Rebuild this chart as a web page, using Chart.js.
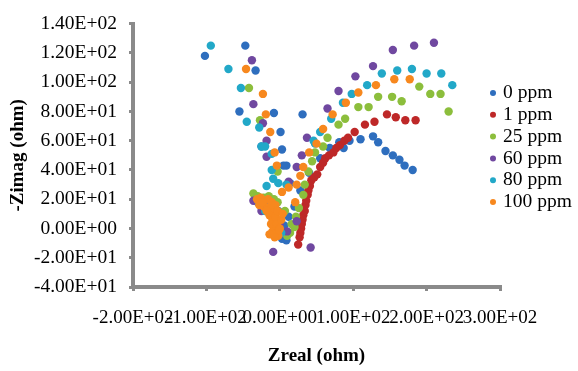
<!DOCTYPE html>
<html>
<head>
<meta charset="utf-8">
<script src="https://cdn.jsdelivr.net/npm/chart.js@4.4.0/dist/chart.umd.min.js"></script>
<style>
  html, body { margin: 0; padding: 0; background: #fff; }
  #wrap { width: 578px; height: 371px; }
</style>
</head>
<body>
<div id="wrap"><canvas id="nyquist" width="578" height="371"></canvas></div>
<script>
// Nyquist data, [Zreal, -Zimag] in ohm
const seriesLabels = ["0 ppm", "1 ppm", "25 ppm", "60 ppm", "80 ppm", "100 ppm"];
const seriesColors = ["#2E6EBE", "#BE2828", "#8CBE3C", "#7048A0", "#22A8C8", "#F7881E"];

const ppm0 = [
  [-47, 125], [-102, 118], [-33, 108], [-55, 80], [-8, 79], [31, 78], [1, 66], [3, 54],
  [-25, 56], [9, 43], [5, 43], [14, 31], [-30, 18], [-20, 15], [-12, 10], [-5, 5],
  [0, -2], [3, -7], [9, -8], [-2, 12], [6, 2], [12, 8], [20, 15], [28, 26], [40, 38],
  [55, 48], [68, 55], [81, 59], [87, 55], [95, 60], [110, 61], [127, 63], [134, 59],
  [144, 53], [154, 50], [163, 47], [170, 43], [181, 40]
];
const ppm1 = [
  [25, -11], [27, -6], [28, -3], [29, 0], [30, 3], [31, 6], [32, 9], [34, 12], [35, 16],
  [36, 19], [38, 23], [39, 26], [41, 29], [43, 33], [47, 35], [51, 37], [55, 42], [59, 45],
  [62, 48], [67, 50], [73, 52], [77, 55], [82, 57], [88, 60], [93, 62], [102, 66],
  [116, 71], [129, 73], [146, 78], [158, 76], [171, 74], [185, 74]
];
const ppm25 = [
  [-42, 96], [-27, 74], [-36, 24], [-30, 22], [-22, 21], [-15, 22], [-8, 20], [-3, 18],
  [-3, 39], [7, 12], [16, 3], [14, -3], [20, 1], [10, -5], [22, 8], [26, 14], [32, 23],
  [34, 30], [39, 39], [44, 46], [48, 52], [59, 56], [65, 62], [80, 71], [89, 75],
  [107, 83], [121, 83], [134, 90], [153, 90], [166, 87], [190, 97], [205, 92], [219, 92],
  [230, 80]
];
const ppm60 = [
  [-38, 115], [-36, 85], [-23, 72], [-18, 60], [-18, 49], [-36, 19], [-25, 12], [-13, 10],
  [-9, 10], [0, 3], [10, -2], [23, 5], [-9, -16], [42, -13], [12, 32], [23, 42], [30, 50],
  [37, 62], [65, 82], [80, 94], [103, 104], [127, 111], [154, 122], [183, 125], [210, 127]
];
const ppm80 = [
  [-94, 125], [-70, 109], [-53, 96], [-45, 73], [-28, 69], [-20, 56], [-25, 56], [-11, 51],
  [-11, 40], [-9, 34], [-18, 29], [-2, 31], [9, 30], [-28, 17], [-20, 12], [-8, 6], [2, -3],
  [-4, -2], [46, 60], [48, 58], [55, 66], [70, 75], [86, 86], [98, 92], [119, 98],
  [139, 106], [160, 108], [180, 109], [200, 106], [220, 106], [235, 98]
];
const ppm100 = [
  [-46, 109], [-23, 92], [-19, 78], [-13, 66], [-7, 52], [-4, 43], [3, 25], [12, 28],
  [21, 18], [-31, 20], [-26, 21], [-21, 19], [-16, 20], [-11, 18], [-6, 16], [-28, 16],
  [-22, 15], [-17, 14], [-12, 13], [-8, 11], [-14, 9], [-10, 6], [-6, 8], [-12, 3], [-8, 1],
  [-4, 3], [-10, -2], [-5, -3], [-2, -5], [0, 0], [-3, 12], [2, 6], [-14, -4], [-18, 12],
  [-24, 18], [4, 10], [-1, -1], [-7, -6], [23, 30], [28, 36], [32, 42], [40, 52], [50, 58],
  [59, 68], [72, 78], [90, 86], [107, 93], [131, 98], [156, 102], [177, 102]
];
const seriesPoints = [ppm0, ppm1, ppm25, ppm60, ppm80, ppm100];

// axis ranges
const xRange = [-200, 300, 100];
const yRange = [-40, 140, 20];

const axisGrey = "#8a8a8a";
const serif = '"Liberation Serif", "Times New Roman", serif';

// Excel style 1.40E+02 labels
function sci(v) {
  const parts = Number(v).toExponential(2).split("e");
  const exp = Math.abs(parseInt(parts[1], 10));
  return parts[0] + "E" + (parts[1][0] === "-" ? "-" : "+") + String(exp).padStart(2, "0");
}

// legend sits over the right part of the plot, like the original
const floatingLegend = {
  id: "floatingLegend",
  afterDraw(chart) {
    const ctx = chart.ctx;
    ctx.save();
    ctx.font = "19.5px " + serif;
    ctx.textBaseline = "middle";
    ctx.textAlign = "left";
    chart.data.datasets.forEach((ds, i) => {
      const y = 93 + i * 21.8;
      ctx.fillStyle = ds.backgroundColor;
      ctx.beginPath();
      ctx.arc(493, y, 3, 0, Math.PI * 2);
      ctx.fill();
      ctx.fillStyle = "#000";
      ctx.fillText(ds.label, 503, y);
    });
    ctx.restore();
  }
};

const datasets = seriesLabels.map((label, i) => ({
  label: label,
  data: seriesPoints[i].map(p => ({ x: p[0], y: p[1] })),
  backgroundColor: seriesColors[i],
  borderColor: seriesColors[i],
  borderWidth: 0,
  pointStyle: "circle",
  pointRadius: 4.2,
  order: seriesLabels.length - i // later series drawn on top
}));

new Chart(document.getElementById("nyquist"), {
  type: "scatter",
  data: { datasets: datasets },
  options: {
    responsive: false,
    animation: false,
    layout: { padding: { top: 15, right: 78, left: 0, bottom: 0 } },
    plugins: {
      legend: { display: false },
      tooltip: { enabled: false }
    },
    scales: {
      x: {
        type: "linear",
        min: xRange[0],
        max: xRange[1],
        ticks: {
          stepSize: xRange[2],
          autoSkip: false,
          maxRotation: 0,
          minRotation: 0,
          padding: 16,
          color: "#000",
          font: { family: serif, size: 19 },
          callback: sci
        },
        grid: { drawOnChartArea: false, drawTicks: true, tickLength: 4, color: axisGrey, lineWidth: 3 },
        border: { color: axisGrey, width: 4 },
        title: {
          display: true,
          text: "Zreal (ohm)",
          color: "#000",
          font: { family: serif, size: 19, weight: "bold" },
          padding: { top: 0, bottom: 4 }
        },
        afterFit(scale) { scale.height = 84; }
      },
      y: {
        type: "linear",
        min: yRange[0],
        max: yRange[1],
        ticks: {
          stepSize: yRange[2],
          padding: 12,
          color: "#000",
          font: { family: serif, size: 19.5 },
          callback: sci
        },
        grid: { drawOnChartArea: false, drawTicks: true, tickLength: 4, color: axisGrey, lineWidth: 3 },
        border: { color: axisGrey, width: 4 },
        title: {
          display: true,
          text: "-Zimag (ohm)",
          color: "#000",
          font: { family: serif, size: 19, weight: "bold" },
          padding: { top: 7, bottom: 0 }
        },
        afterFit(scale) { scale.height; scale.width = 133; }
      }
    }
  },
  plugins: [floatingLegend]
});
</script>
</body>
</html>
